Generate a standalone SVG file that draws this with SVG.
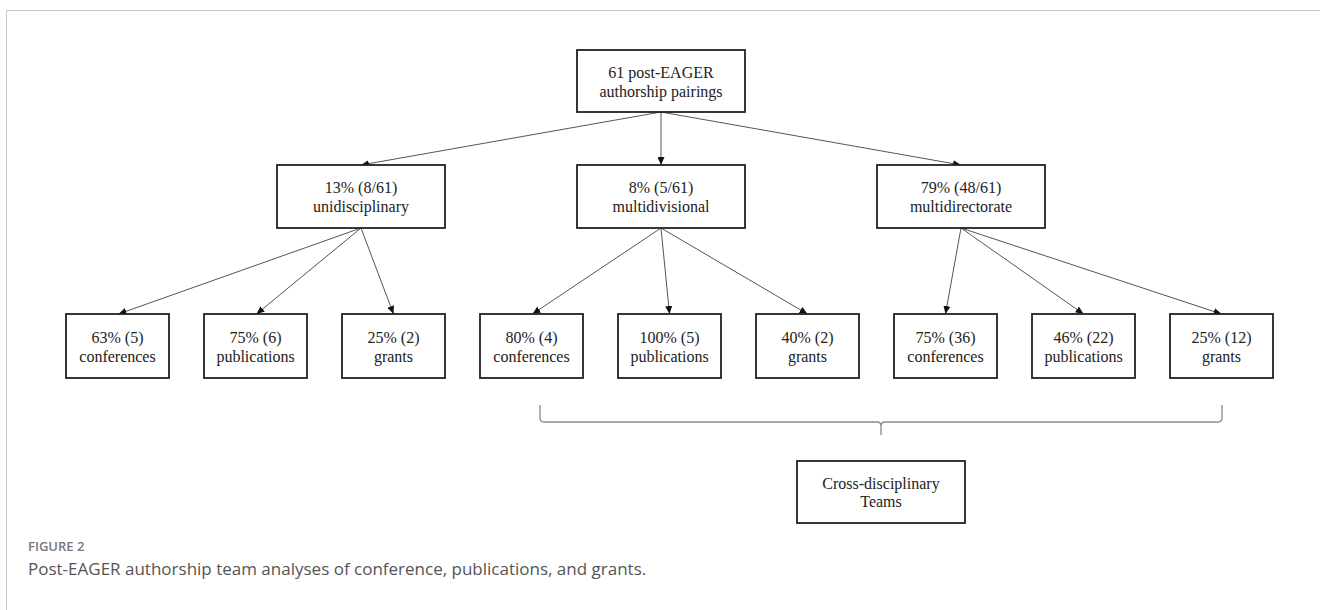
<svg xmlns="http://www.w3.org/2000/svg" width="1320" height="610" viewBox="0 0 1320 610">
<defs>
<marker id="ah" markerUnits="userSpaceOnUse" markerWidth="9" markerHeight="7" refX="8" refY="3.5" orient="auto">
<path d="M0,0 L8,3.5 L0,7 z" fill="#111"/>
</marker>
<style>
.box{fill:#fff;stroke:#222;stroke-width:1.8}
.t{font-family:"Liberation Serif","Times New Roman",serif;font-size:16px;fill:#222;text-anchor:middle}
.c{stroke:#555;stroke-width:1;fill:none;marker-end:url(#ah)}
.brace{stroke:#8a8a8a;stroke-width:1.3;fill:none}
.cap1{font-family:"Open Sans","Noto Sans",sans-serif;font-size:13px;font-weight:600;fill:#777}
.cap2{font-family:"Open Sans","Noto Sans",sans-serif;font-size:17px;fill:#555}
</style>
</defs>
<rect width="1320" height="610" fill="#fff"/>
<rect x="6.5" y="10.5" width="1330" height="620" fill="none" stroke="#c8c8c8" stroke-width="1"/>

<g id="connectors">
<line class="c" x1="661" y1="112" x2="361" y2="165"/>
<line class="c" x1="661" y1="112" x2="661" y2="165"/>
<line class="c" x1="661" y1="112" x2="961" y2="165"/>
<line class="c" x1="361" y1="228" x2="118.5" y2="314"/>
<line class="c" x1="361" y1="228" x2="256.5" y2="314"/>
<line class="c" x1="361" y1="228" x2="393.5" y2="314"/>
<line class="c" x1="661" y1="228" x2="532.5" y2="314"/>
<line class="c" x1="661" y1="228" x2="669.5" y2="314"/>
<line class="c" x1="661" y1="228" x2="807.5" y2="314"/>
<line class="c" x1="961" y1="228" x2="945.5" y2="314"/>
<line class="c" x1="961" y1="228" x2="1083.5" y2="314"/>
<line class="c" x1="961" y1="228" x2="1221.5" y2="314"/>
<path class="brace" d="M540,405 L540,418 Q540,422 544,422 L877,422 Q881,422 881,426 L881,435 M881,426 Q881,422 885,422 L1218,422 Q1222,422 1222,418 L1222,405"/>
</g>

<g id="root"><rect class="box" x="577" y="50" width="168" height="62"/><text class="t" x="661" y="78">61 post-EAGER</text><text class="t" x="661" y="97">authorship pairings</text></g>

<g id="unidisciplinary"><rect class="box" x="277" y="165" width="168" height="63"/><text class="t" x="361" y="193">13% (8/61)</text><text class="t" x="361" y="212">unidisciplinary</text></g>
<g id="multidivisional"><rect class="box" x="577" y="165" width="168" height="63"/><text class="t" x="661" y="193">8% (5/61)</text><text class="t" x="661" y="212">multidivisional</text></g>
<g id="multidirectorate"><rect class="box" x="877" y="165" width="168" height="63"/><text class="t" x="961" y="193">79% (48/61)</text><text class="t" x="961" y="212">multidirectorate</text></g>

<g id="uni-conf"><rect class="box" x="66" y="314" width="103" height="64"/><text class="t" x="117.5" y="343">63% (5)</text><text class="t" x="117.5" y="362">conferences</text></g>
<g id="uni-pub"><rect class="box" x="204" y="314" width="103" height="64"/><text class="t" x="255.5" y="343">75% (6)</text><text class="t" x="255.5" y="362">publications</text></g>
<g id="uni-grant"><rect class="box" x="342" y="314" width="103" height="64"/><text class="t" x="393.5" y="343">25% (2)</text><text class="t" x="393.5" y="362">grants</text></g>
<g id="div-conf"><rect class="box" x="480" y="314" width="103" height="64"/><text class="t" x="531.5" y="343">80% (4)</text><text class="t" x="531.5" y="362">conferences</text></g>
<g id="div-pub"><rect class="box" x="618" y="314" width="103" height="64"/><text class="t" x="669.5" y="343">100% (5)</text><text class="t" x="669.5" y="362">publications</text></g>
<g id="div-grant"><rect class="box" x="756" y="314" width="103" height="64"/><text class="t" x="807.5" y="343">40% (2)</text><text class="t" x="807.5" y="362">grants</text></g>
<g id="dir-conf"><rect class="box" x="894" y="314" width="103" height="64"/><text class="t" x="945.5" y="343">75% (36)</text><text class="t" x="945.5" y="362">conferences</text></g>
<g id="dir-pub"><rect class="box" x="1032" y="314" width="103" height="64"/><text class="t" x="1083.5" y="343">46% (22)</text><text class="t" x="1083.5" y="362">publications</text></g>
<g id="dir-grant"><rect class="box" x="1170" y="314" width="103" height="64"/><text class="t" x="1221.5" y="343">25% (12)</text><text class="t" x="1221.5" y="362">grants</text></g>

<g id="cross"><rect class="box" x="797" y="461" width="168" height="62"/><text class="t" x="881" y="489">Cross-disciplinary</text><text class="t" x="881" y="507">Teams</text></g>

<text class="cap1" x="28" y="551">FIGURE 2</text>
<text class="cap2" x="28" y="575">Post-EAGER authorship team analyses of conference, publications, and grants.</text>
</svg>
